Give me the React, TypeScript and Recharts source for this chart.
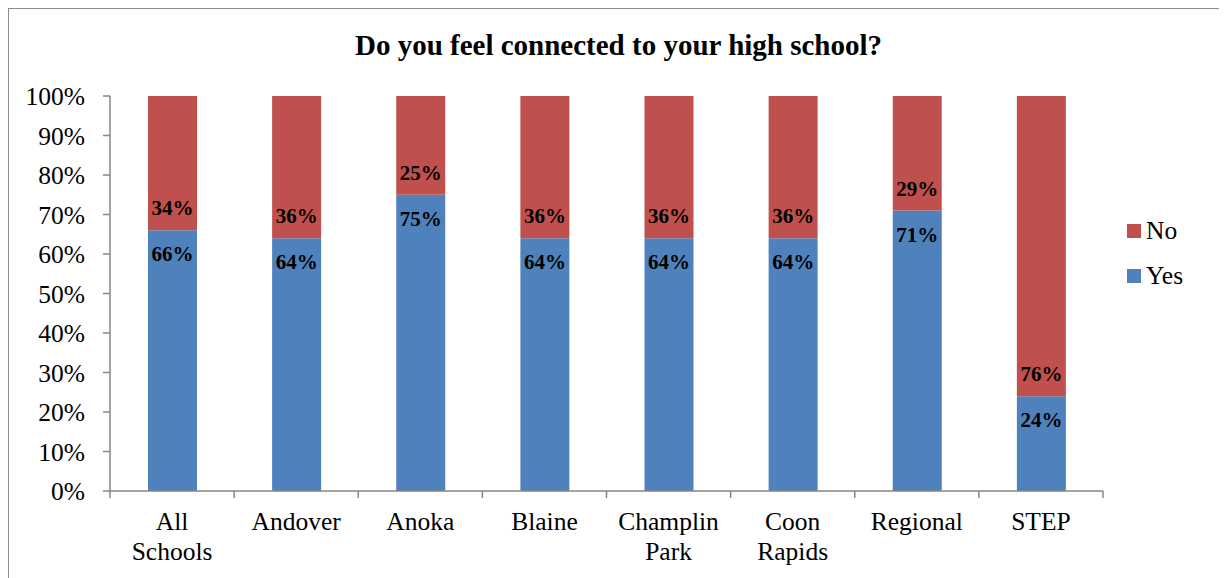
import React from 'react';
import { BarChart, Bar, XAxis, YAxis, LabelList } from 'recharts';

const schools = ['All Schools', 'Andover', 'Anoka', 'Blaine', 'Champlin Park', 'Coon Rapids', 'Regional', 'STEP'];
const schoolLines: Record<string, string[]> = {
  'All Schools': ['All', 'Schools'],
  'Champlin Park': ['Champlin', 'Park'],
  'Coon Rapids': ['Coon', 'Rapids'],
};
const yesValues = [66, 64, 75, 64, 64, 64, 71, 24];
const noValues = [34, 36, 25, 36, 36, 36, 29, 76];
const yTicks = [0, 10, 20, 30, 40, 50, 60, 70, 80, 90, 100];

const data = schools.map((name, i) => ({ name, yes: yesValues[i], no: noValues[i] }));

const FONT = '"Liberation Serif", "Times New Roman", serif';
const YES_COLOR = '#4F81BD';
const NO_COLOR = '#C0504D';
const AXIS_COLOR = '#868686';

const CHART_W = 1219;
const CHART_H = 570;
const MARGIN = { top: 87, right: 125, bottom: 0, left: 0 };
const Y_AXIS_W = 101;
const BAND = (CHART_W - MARGIN.right - MARGIN.left - Y_AXIS_W) / schools.length;

const SchoolTick = (props: any) => {
  const { x, y, payload, index } = props;
  const lines = schoolLines[payload.value] || [payload.value];
  return (
    <g>
      <line x1={x - BAND / 2} y1={y} x2={x - BAND / 2} y2={y + 7} stroke={AXIS_COLOR} strokeWidth={1.5} />
      {index === schools.length - 1 && (
        <line x1={x + BAND / 2} y1={y} x2={x + BAND / 2} y2={y + 7} stroke={AXIS_COLOR} strokeWidth={1.5} />
      )}
      <text x={x} y={y + 30} textAnchor="middle" dominantBaseline="central" fontSize={25.5} fontFamily={FONT} fill="#000">
        {lines.map((l: string, i: number) => (
          <tspan key={i} x={x} dy={i === 0 ? 0 : 30}>{l}</tspan>
        ))}
      </text>
    </g>
  );
};

const yesLabel = (props: any) => {
  const { x, y, width, value } = props;
  return (
    <text x={x + width / 2} y={y + 24} textAnchor="middle" dominantBaseline="central" fontSize={21} fontWeight="bold" fontFamily={FONT} fill="#000">
      {value}%
    </text>
  );
};

const noLabel = (props: any) => {
  const { x, y, width, height, value } = props;
  return (
    <text x={x + width / 2} y={y + height - 22} textAnchor="middle" dominantBaseline="central" fontSize={21} fontWeight="bold" fontFamily={FONT} fill="#000">
      {value}%
    </text>
  );
};

const legendItems = [
  { label: 'No', color: NO_COLOR },
  { label: 'Yes', color: YES_COLOR },
];

const ChartLegend = () => (
  <div style={{ position: 'absolute', left: 1118, top: 199, fontFamily: FONT, fontSize: 25.5 }}>
    {legendItems.map((item) => (
      <div key={item.label} style={{ display: 'flex', alignItems: 'center', height: 45 }}>
        <span style={{ width: 14, height: 14, background: item.color, display: 'inline-block', marginRight: 5 }} />
        <span>{item.label}</span>
      </div>
    ))}
  </div>
);

export default function App() {
  return (
    <div style={{ position: 'relative', width: CHART_W, height: CHART_H, border: '1px solid #8c8c8c', background: '#fff' }}>
      <div style={{ position: 'absolute', top: 20, left: 0, width: CHART_W, textAlign: 'center', fontFamily: FONT, fontSize: 29, fontWeight: 'bold', color: '#000' }}>
        Do you feel connected to your high school?
      </div>
      <BarChart width={CHART_W} height={CHART_H} data={data} margin={MARGIN}>
        <XAxis
          dataKey="name"
          height={88}
          interval={0}
          tickLine={false}
          tickSize={0}
          tickMargin={0}
          tick={<SchoolTick />}
          stroke={AXIS_COLOR}
          strokeWidth={1.5}
        />
        <YAxis
          width={Y_AXIS_W}
          domain={[0, 100]}
          ticks={yTicks}
          tickFormatter={(v: number) => `${v}%`}
          tickSize={7}
          tickMargin={18}
          stroke={AXIS_COLOR}
          strokeWidth={1.5}
          tick={{ fill: '#000', fontSize: 25.5, fontFamily: FONT }}
          interval={0}
        />
        <Bar dataKey="yes" name="Yes" stackId="a" fill={YES_COLOR} barSize={49} isAnimationActive={false}>
          <LabelList dataKey="yes" content={yesLabel} />
        </Bar>
        <Bar dataKey="no" name="No" stackId="a" fill={NO_COLOR} barSize={49} isAnimationActive={false}>
          <LabelList dataKey="no" content={noLabel} />
        </Bar>
      </BarChart>
      <ChartLegend />
    </div>
  );
}
